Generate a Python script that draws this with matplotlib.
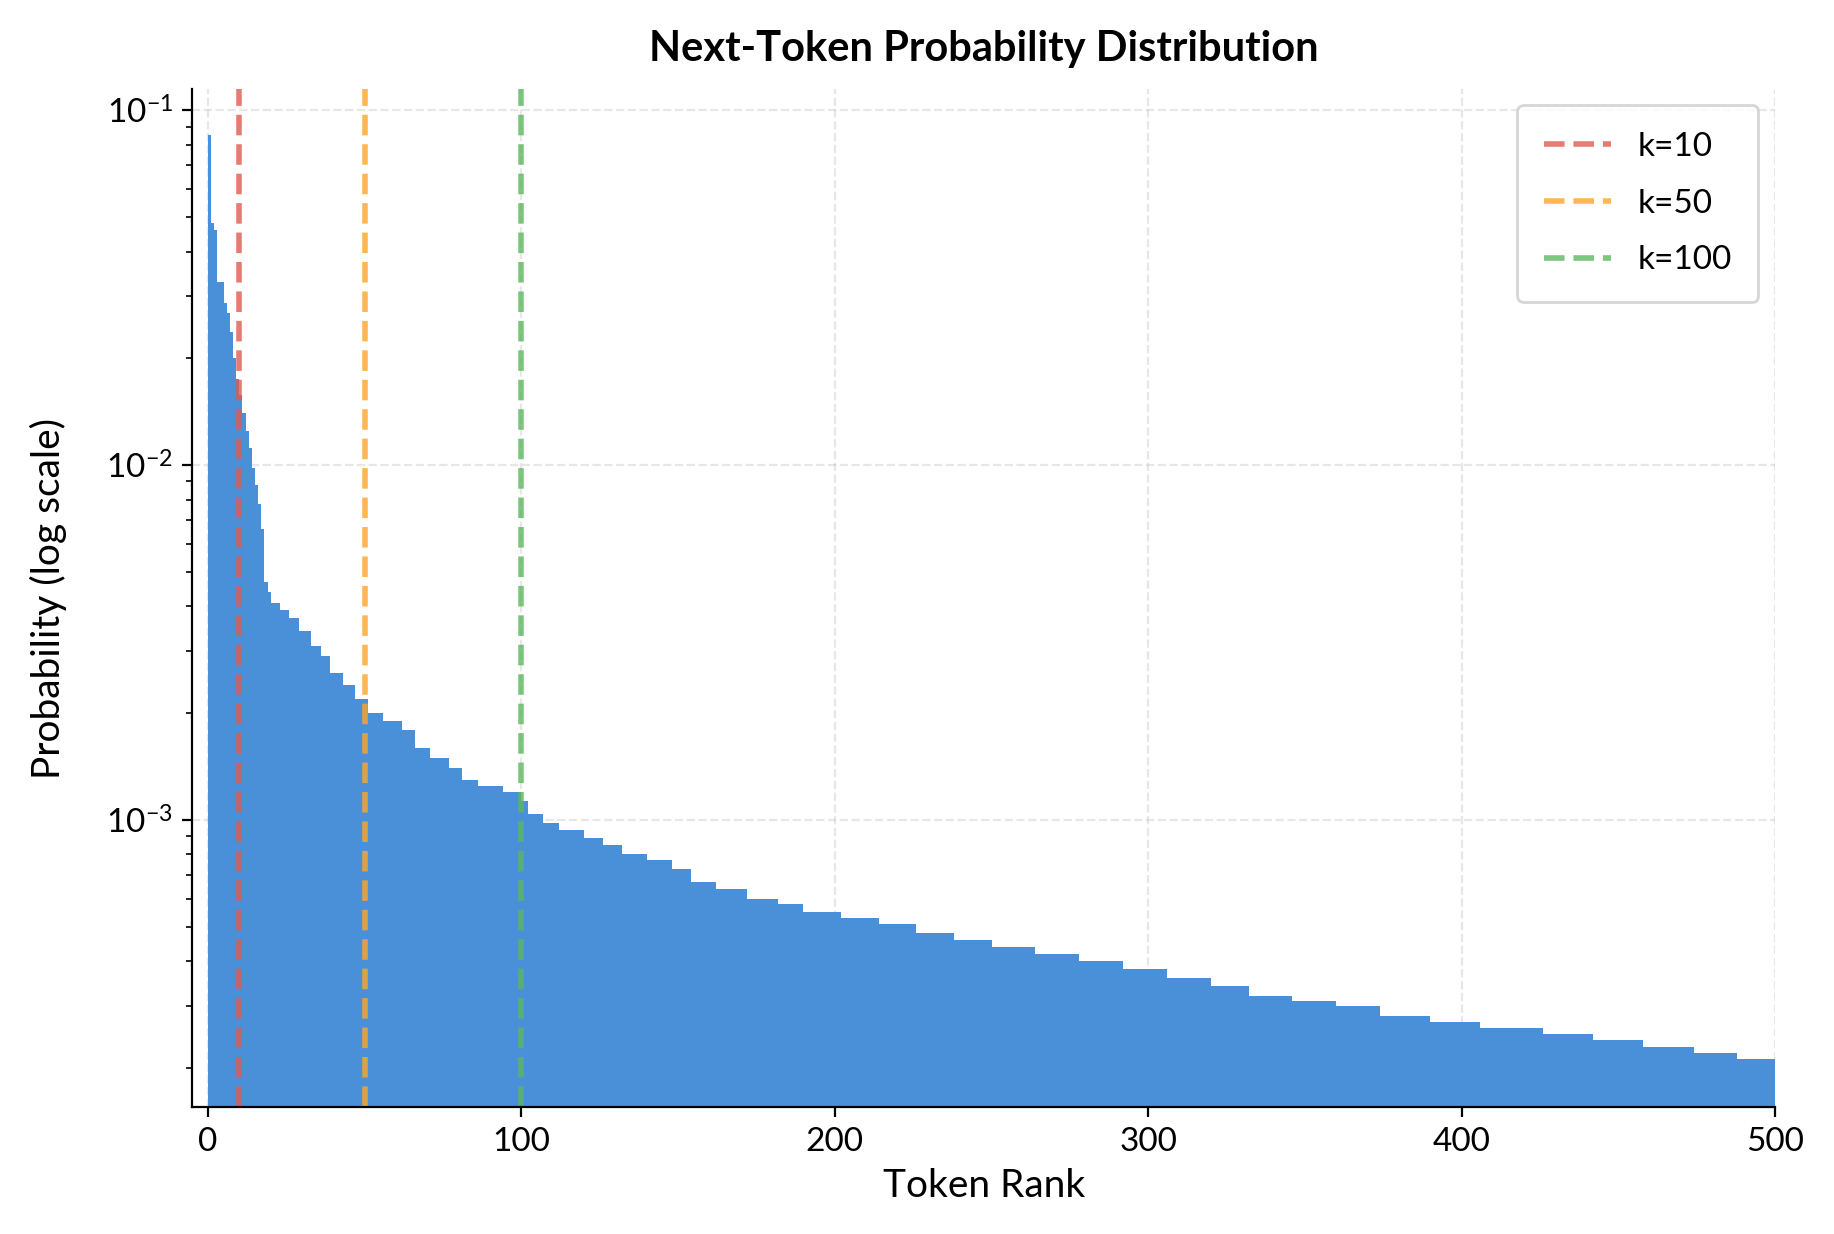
import numpy as np
import matplotlib.pyplot as plt

plt.rcParams['font.family'] = ['Lato', 'DejaVu Sans']

# step values: (probability, number of ranks)
run_values = [0.0854, 0.048, 0.046, 0.0328, 0.0287, 0.0268, 0.0237, 0.020, 0.0175,
              0.0158, 0.014, 0.0125, 0.0112, 0.0098, 0.0088, 0.0078, 0.0066, 0.0047,
              0.0044, 0.0041, 0.0039, 0.0037, 0.0034, 0.0031, 0.0029, 0.0026, 0.0024,
              0.0022, 0.0020, 0.0019, 0.0018, 0.0016, 0.0015, 0.0014, 0.0013, 0.00125,
              0.0012, 0.00113, 0.00104, 0.00098, 0.00094, 0.00089, 0.00085, 0.00080,
              0.00077, 0.00073, 0.00067, 0.00064, 0.00060, 0.00058, 0.00055, 0.00053,
              0.00051, 0.00048, 0.00046, 0.00044, 0.00042, 0.00040, 0.00038, 0.00036,
              0.00034, 0.00032, 0.00031, 0.00030, 0.00028, 0.00027, 0.00026, 0.00025,
              0.00024, 0.00023, 0.00022, 0.000212]
run_lengths = [1, 1, 1, 2, 1, 1, 1, 1, 1,
               1, 1, 1, 1, 1, 1, 1, 1, 1,
               1, 3, 3, 3, 4, 3, 3, 4, 4,
               4, 5, 6, 4, 5, 6, 4, 5, 8,
               6, 2, 5, 5, 8, 6, 6, 8,
               8, 6, 8, 10, 10, 8, 12, 12,
               12, 12, 12, 14, 14, 14, 14, 14,
               12, 14, 14, 14, 16, 16, 20, 16,
               16, 16, 14, 12]
probs = np.repeat(run_values, run_lengths)
ranks = np.arange(len(probs))

k_values = [10, 50, 100]
k_colors = ['#e05a50', '#ffa726', '#5cb85c']

fig, ax = plt.subplots(figsize=(9.17, 6.17), dpi=200)
ax.bar(ranks, probs, width=1.0, align='edge', color='#4a90d9', linewidth=0)
for k, c in zip(k_values, k_colors):
    ax.axvline(k, color=c, linestyle='--', linewidth=2, alpha=0.8, label=f"k={k}")

ax.set_yscale('log')
ax.set_xlim(-5, 500)
ax.set_ylim(1.55e-4, 0.115)
ax.grid(True, linestyle='--', alpha=0.3)
ax.set_axisbelow(True)
ax.spines['top'].set_visible(False)
ax.spines['right'].set_visible(False)
ax.set_title("Next-Token Probability Distribution", fontweight='bold', fontsize=15, pad=10)
ax.set_xlabel("Token Rank", fontsize=14)
ax.set_ylabel("Probability (log scale)", fontsize=14, labelpad=14)
ax.tick_params(labelsize=12)
ax.legend(fontsize=12, loc='upper right', borderpad=0.8, labelspacing=0.8)
plt.tight_layout()
plt.savefig("out.png")
